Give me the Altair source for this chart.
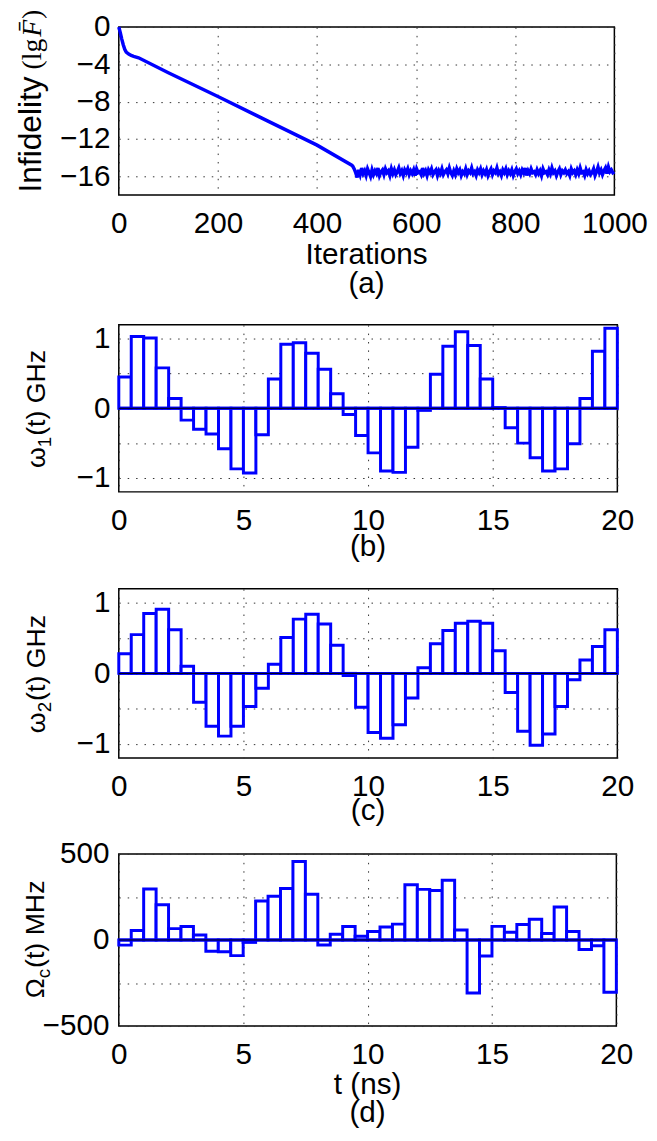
import altair as alt
import pandas as pd

BLUE = "#0000ff"
FONT = "Liberation Sans"
SERIF = "Liberation Serif"
FS = 30      # tick labels and x titles
FT = 27      # omega / Omega axis titles

# ---------------- panel (a): infidelity vs iterations ----------------
iter_ramp = [0, 3, 6, 9, 12, 15, 20, 25, 30, 40, 100, 200, 300, 400, 470]
infid_ramp = [0.0, -0.6, -1.3, -1.9, -2.4, -2.7, -2.9, -3.05, -3.15, -3.3,
              -4.9, -7.45, -10.05, -12.65, -14.8]
iter_flat = list(range(472, 1001, 3))
infid_flat = [
    -14.9, -15.2, -15.6, -16.1, -15.3, -15.8, -15.1, -15.7, -15.4, -15.9, -15.2, -15.6,
    -16.0, -15.3, -15.8, -15.4, -15.7, -15.1, -15.9, -15.5, -15.3, -15.8, -15.2, -15.6,
    -15.4, -15.9, -15.2, -15.7, -15.3, -15.8, -15.5, -15.1, -15.7, -15.4, -15.9, -15.3,
    -15.6, -15.2, -15.8, -15.4, -15.7, -15.3, -15.9, -15.2, -15.6, -15.5, -15.8, -15.1,
    -15.7, -15.4, -15.9, -15.3, -15.6, -15.2, -15.8, -15.5, -15.3, -15.9, -15.4, -15.7,
    -15.2, -15.8, -15.5, -15.3, -15.7, -15.1, -15.6, -15.9, -15.4, -15.8, -15.2, -15.6,
    -15.3, -15.9, -15.5, -15.7, -15.2, -15.8, -15.4, -15.6, -15.1, -15.7, -15.5, -15.9,
    -15.3, -15.6, -15.2, -15.8, -15.4, -15.7, -15.3, -15.9, -15.5, -15.2, -15.8, -15.4,
    -15.6, -15.1, -15.7, -15.5, -15.9, -15.3, -15.6, -15.2, -15.8, -15.4, -15.7, -15.3,
    -15.9, -15.5, -15.2, -15.7, -15.4, -15.8, -15.3, -15.6, -15.1, -15.9, -15.4, -15.7,
    -15.2, -15.6, -15.5, -15.8, -15.3, -15.7, -15.4, -15.9, -15.2, -15.6, -15.5, -15.8,
    -15.3, -15.7, -15.1, -15.6, -15.4, -15.9, -15.5, -15.2, -15.8, -15.4, -15.6, -15.3,
    -15.7, -15.5, -15.9, -15.2, -15.6, -15.4, -15.8, -15.3, -15.7, -15.1, -15.6, -15.5,
    -15.9, -15.3, -15.7, -15.4, -15.8, -15.6, -15.2, -15.9, -15.5, -15.0, -15.6, -15.3,
    -15.8, -15.4, -15.1, -15.7, -15.0, -15.5, -15.3, -15.6, -15.5]

# ---------------- panels (b), (c), (d): piecewise-constant controls ----------------
t_start = [i * 0.5 for i in range(40)]
t_end = [i * 0.5 + 0.5 for i in range(40)]
omega1 = [0.45, 1.03, 1.01, 0.58, 0.14, -0.17, -0.30, -0.37, -0.58, -0.87,
          -0.93, -0.38, 0.42, 0.92, 0.94, 0.79, 0.56, 0.21, -0.09, -0.39,
          -0.64, -0.90, -0.92, -0.56, -0.03, 0.49, 0.89, 1.10, 0.90, 0.42,
          0.01, -0.28, -0.50, -0.71, -0.90, -0.87, -0.51, 0.14, 0.82, 1.15]
omega2 = [0.28, 0.55, 0.85, 0.91, 0.62, 0.10, -0.41, -0.75, -0.89, -0.75,
          -0.47, -0.21, 0.13, 0.51, 0.77, 0.84, 0.70, 0.40, -0.03, -0.48,
          -0.84, -0.92, -0.73, -0.35, 0.08, 0.42, 0.61, 0.71, 0.74, 0.71,
          0.32, -0.27, -0.82, -1.02, -0.86, -0.47, -0.09, 0.19, 0.38, 0.62]
omega_c = [-30, 55, 296, 205, 66, 78, 29, -65, -68, -91,
           -14, 226, 254, 299, 456, 266, -29, 33, 78, 22,
           49, 76, 92, 321, 294, 287, 347, 58, -308, -93,
           79, 45, 90, 120, 38, 192, 49, -55, -33, -304]

x_ticks_a = [0, 200, 400, 600, 800, 1000]
y_ticks_a = [-16, -12, -8, -4, 0]
x_ticks_t = [0, 5, 10, 15, 20]
y_ticks_ghz = [-1, -0.5, 0, 0.5, 1]
y_ticks_mhz = [-500, -250, 0, 250, 500]

ONE = pd.DataFrame({"k": [0]})
LEFT = -110.5   # left guide: puts every plot origin at page x = 119


def txt(text, x, y, size=FS, angle=0, align="center", baseline="middle",
        font=FONT, style="normal"):
    return alt.Chart(ONE).mark_text(
        text=text, fontSize=size, angle=angle, align=align, baseline=baseline,
        font=font, fontStyle=style, color="black"
    ).encode(x=alt.value(x), y=alt.value(y))


def bound(h, B, T=16):
    # white guide line at the far left: fixes the extent of the cell
    return alt.Chart(ONE).mark_rule(stroke="white", strokeWidth=1).encode(
        x=alt.value(LEFT), y=alt.value(-T), y2=alt.value(h + B))


COMMON = dict(title=None, grid=True, ticks=False, tickSize=0, labelFontSize=FS,
              labelFont=FONT, labelColor="black", domain=False, gridColor="#333333",
              gridDash=[1.5, 7], gridWidth=1, gridOpacity=1,
              labelOverlap=False, labelFlush=False, labelBound=False)


def xaxis(vals):
    return alt.Axis(values=vals, labelPadding=14, format="d", **COMMON)


def yaxis(vals, expr=None, pad=9):
    kw = dict(values=vals, labelPadding=pad, **COMMON)
    if expr:
        kw["labelExpr"] = expr
    return alt.Axis(**kw)


def subtitle(main, sub, rest, wmain, wsub, xb, yc, total):
    y0 = yc + total / 2 - wmain
    return [
        txt(main, xb, y0, size=FT, angle=270, align="right", baseline="alphabetic"),
        txt(sub, xb + 6, y0, size=19, angle=270, align="left", baseline="alphabetic"),
        txt(rest, xb, y0 - wsub - 1, size=FT, angle=270, align="left", baseline="alphabetic"),
    ]


# ---- (a)
Wa, Ha = 501, 170
df_a = pd.DataFrame({"it": iter_ramp + iter_flat, "f": infid_ramp + infid_flat})
line_a = alt.Chart(df_a).mark_line(color=BLUE, strokeWidth=3.5).encode(
    x=alt.X("it:Q", scale=alt.Scale(domain=[0, 1000], nice=False), axis=xaxis(x_ticks_a)),
    y=alt.Y("f:Q", scale=alt.Scale(domain=[-18, 0], nice=False), axis=yaxis(y_ticks_a)),
)
yj = 50
xa = -79
panel_a = alt.layer(
    bound(Ha, 111.5),
    line_a,
    txt("Infidelity", xa, yj, size=32, angle=270, align="right", baseline="alphabetic"),
    txt("(lg", xa, yj - 7, size=28, angle=270, align="left", baseline="alphabetic", font=SERIF),
    txt("F\u0304", xa, yj - 40, size=28, angle=270, align="left", baseline="alphabetic",
        font=SERIF, style="italic"),
    txt(")", xa, yj - 58, size=28, angle=270, align="left", baseline="alphabetic", font=SERIF),
    txt("Iterations", Wa / 2, Ha + 61),
    txt("(a)", Wa / 2, Ha + 90),
).properties(width=Wa, height=Ha)


def bar_panel(vals, W, H, B, dom, yt, expr, ypad, titles, xtexts):
    df = pd.DataFrame({"t0": t_start, "t1": t_end, "v": vals, "z": [0] * len(vals)})
    bars = alt.Chart(df).mark_bar(fill="white", stroke=BLUE, strokeWidth=3, strokeJoin="miter").encode(
        x=alt.X("t0:Q", scale=alt.Scale(domain=[0, 20], nice=False), axis=xaxis(x_ticks_t)),
        x2="t1:Q",
        y=alt.Y("v:Q", scale=alt.Scale(domain=dom, nice=False), axis=yaxis(yt, expr, ypad)),
        y2="z:Q",
    )
    base_blue = alt.Chart(ONE).mark_rule(color=BLUE, strokeWidth=3).encode(
        y=alt.Y(datum=0), x=alt.value(0), x2=alt.value(W))
    base_black = alt.Chart(ONE).mark_rule(color="black", strokeWidth=1).encode(
        y=alt.Y(datum=0), x=alt.value(0), x2=alt.value(W))
    texts = [txt(s, W / 2, H + dy) for s, dy in xtexts]
    return alt.layer(bound(H, B), bars, base_blue, base_black, *titles, *texts).properties(
        width=W, height=H)


EXPR_INT = "datum.value % 1 == 0 ? format(datum.value, 'd') : ''"
EXPR_500 = "datum.value % 500 == 0 ? format(datum.value, 'd') : ''"

Wb, Hb = 504, 169
panel_b = bar_panel(omega1, Wb, Hb, 78, [-1.2, 1.2], y_ticks_ghz, EXPR_INT, 9,
                    subtitle("\u03c9", "1", "(t) GHz", 18.6, 10.6, -75, Hb / 2, 116),
                    [("(b)", 56)])

Wc, Hc = 504, 171
panel_c = bar_panel(omega2, Wc, Hc, 77, [-1.2, 1.2], y_ticks_ghz, EXPR_INT, 9,
                    subtitle("\u03c9", "2", "(t) GHz", 18.6, 10.6, -75, Hc / 2, 116),
                    [("(c)", 54)])

Wd, Hd = 503, 174
panel_d = bar_panel(omega_c, Wd, Hd, 102, [-500, 500], y_ticks_mhz, EXPR_500, 10,
                    subtitle("\u03a9", "c", "(t) MHz", 20.7, 9.5, -76, Hd / 2, 119),
                    [("t (ns)", 60), ("(d)", 88)])

chart = alt.concat(panel_a, panel_b, panel_c, panel_d, columns=1, spacing=0).properties(
    padding={"left": 0, "top": -6, "right": 0, "bottom": 0}
).configure_view(
    stroke="black", strokeWidth=1.5
)

chart.save("out.html", embed_options={"renderer": "svg", "actions": False})
